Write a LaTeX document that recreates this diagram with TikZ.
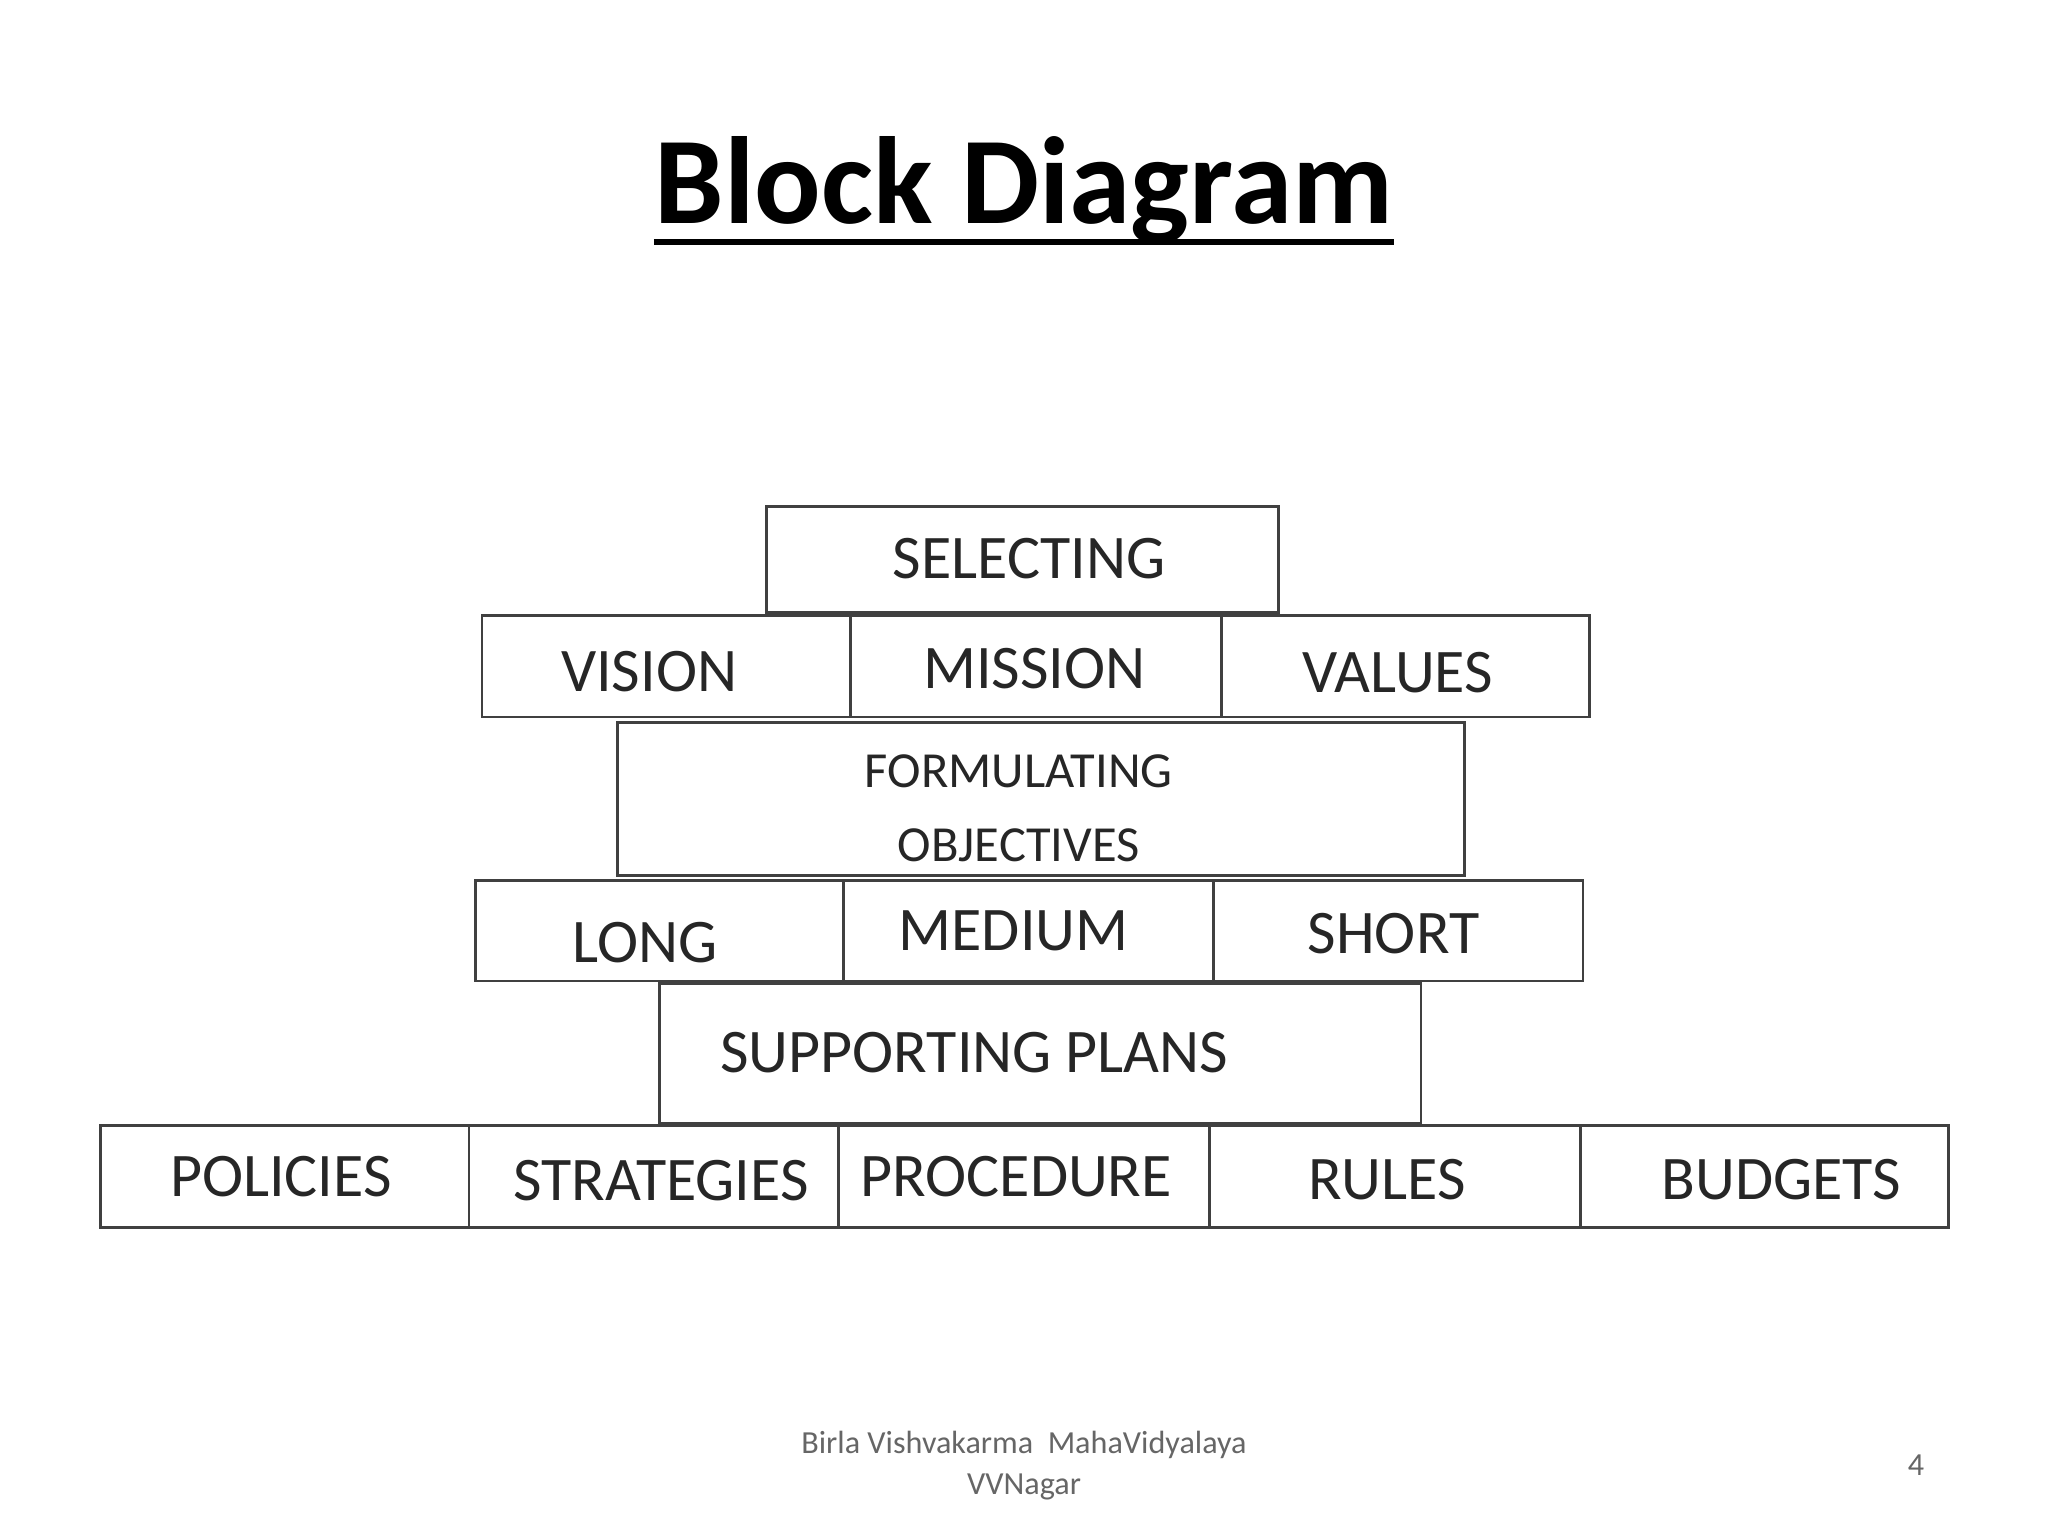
\documentclass[tikz,border=0pt]{standalone}
\usepackage{fontspec}
\setmainfont{Carlito}
\begin{document}
\begin{tikzpicture}[x=0.01cm,y=-0.01cm,
 box/.style={draw=black!75,line width=0.6pt,inner sep=0pt},
 lbl/.style={font=\fontsize{13.5}{15}\selectfont,text=black!85,inner sep=0pt},
 ]
\useasboundingbox[fill=white] (0,0) rectangle (1568,1176);
\newcommand{\bx}[8]{\node[box,minimum width={(#4-#2)*0.01cm},minimum height={(#5-#3)*0.01cm}] (#1) at ({(#2+#4)/2},{(#3+#5)/2}) {};
\node[lbl] (#1t) at (#7,#8) {#6};}
\node[font=\fontsize{27}{30}\selectfont\bfseries,inner sep=0pt] (title) at (784,146) {Block Diagram};
\draw[line width=1.3pt] ([yshift=-4pt]title.base west) -- ([yshift=-4pt]title.base east);
\bx{sel}{587}{388}{979}{469}{SELECTING}{788}{428}
\bx{vis}{369}{471}{651}{549}{VISION}{497}{514}
\bx{mis}{651}{471}{935}{549}{MISSION}{792}{512}
\bx{val}{935}{471}{1217}{549}{VALUES}{1070}{515}
\node[box,minimum width=6.48cm,minimum height=1.17cm] (form) at (797,611.5) {};
\node[lbl,font=\fontsize{11}{14}\selectfont,align=center] (formt) at (780,619) {FORMULATING\\[2pt]OBJECTIVES};
\bx{long}{364}{674}{646}{751}{LONG}{494}{722}
\bx{med}{646}{674}{929}{751}{MEDIUM}{776}{713}
\bx{short}{929}{674}{1212}{751}{SHORT}{1067}{715}
\bx{sup}{505}{753}{1088}{860}{SUPPORTING PLANS}{746}{806}
\bx{pol}{77}{862}{359}{940}{POLICIES}{215}{901}
\bx{str}{359}{862}{642}{940}{STRATEGIES}{506}{904}
\bx{pro}{642}{862}{926}{940}{PROCEDURE}{778}{901}
\bx{rul}{926}{862}{1210}{940}{RULES}{1062}{903}
\bx{bud}{1210}{862}{1492}{940}{BUDGETS}{1364}{903}
\node[font=\fontsize{7}{9}\selectfont,text=black!60,align=center] (foot) at (784,1122) {Birla Vishvakarma\ \ MahaVidyalaya\\VVNagar};
\node[font=\fontsize{7}{8}\selectfont,text=black!60] (pg) at (1467,1122) {4};
\end{tikzpicture}
\end{document}
